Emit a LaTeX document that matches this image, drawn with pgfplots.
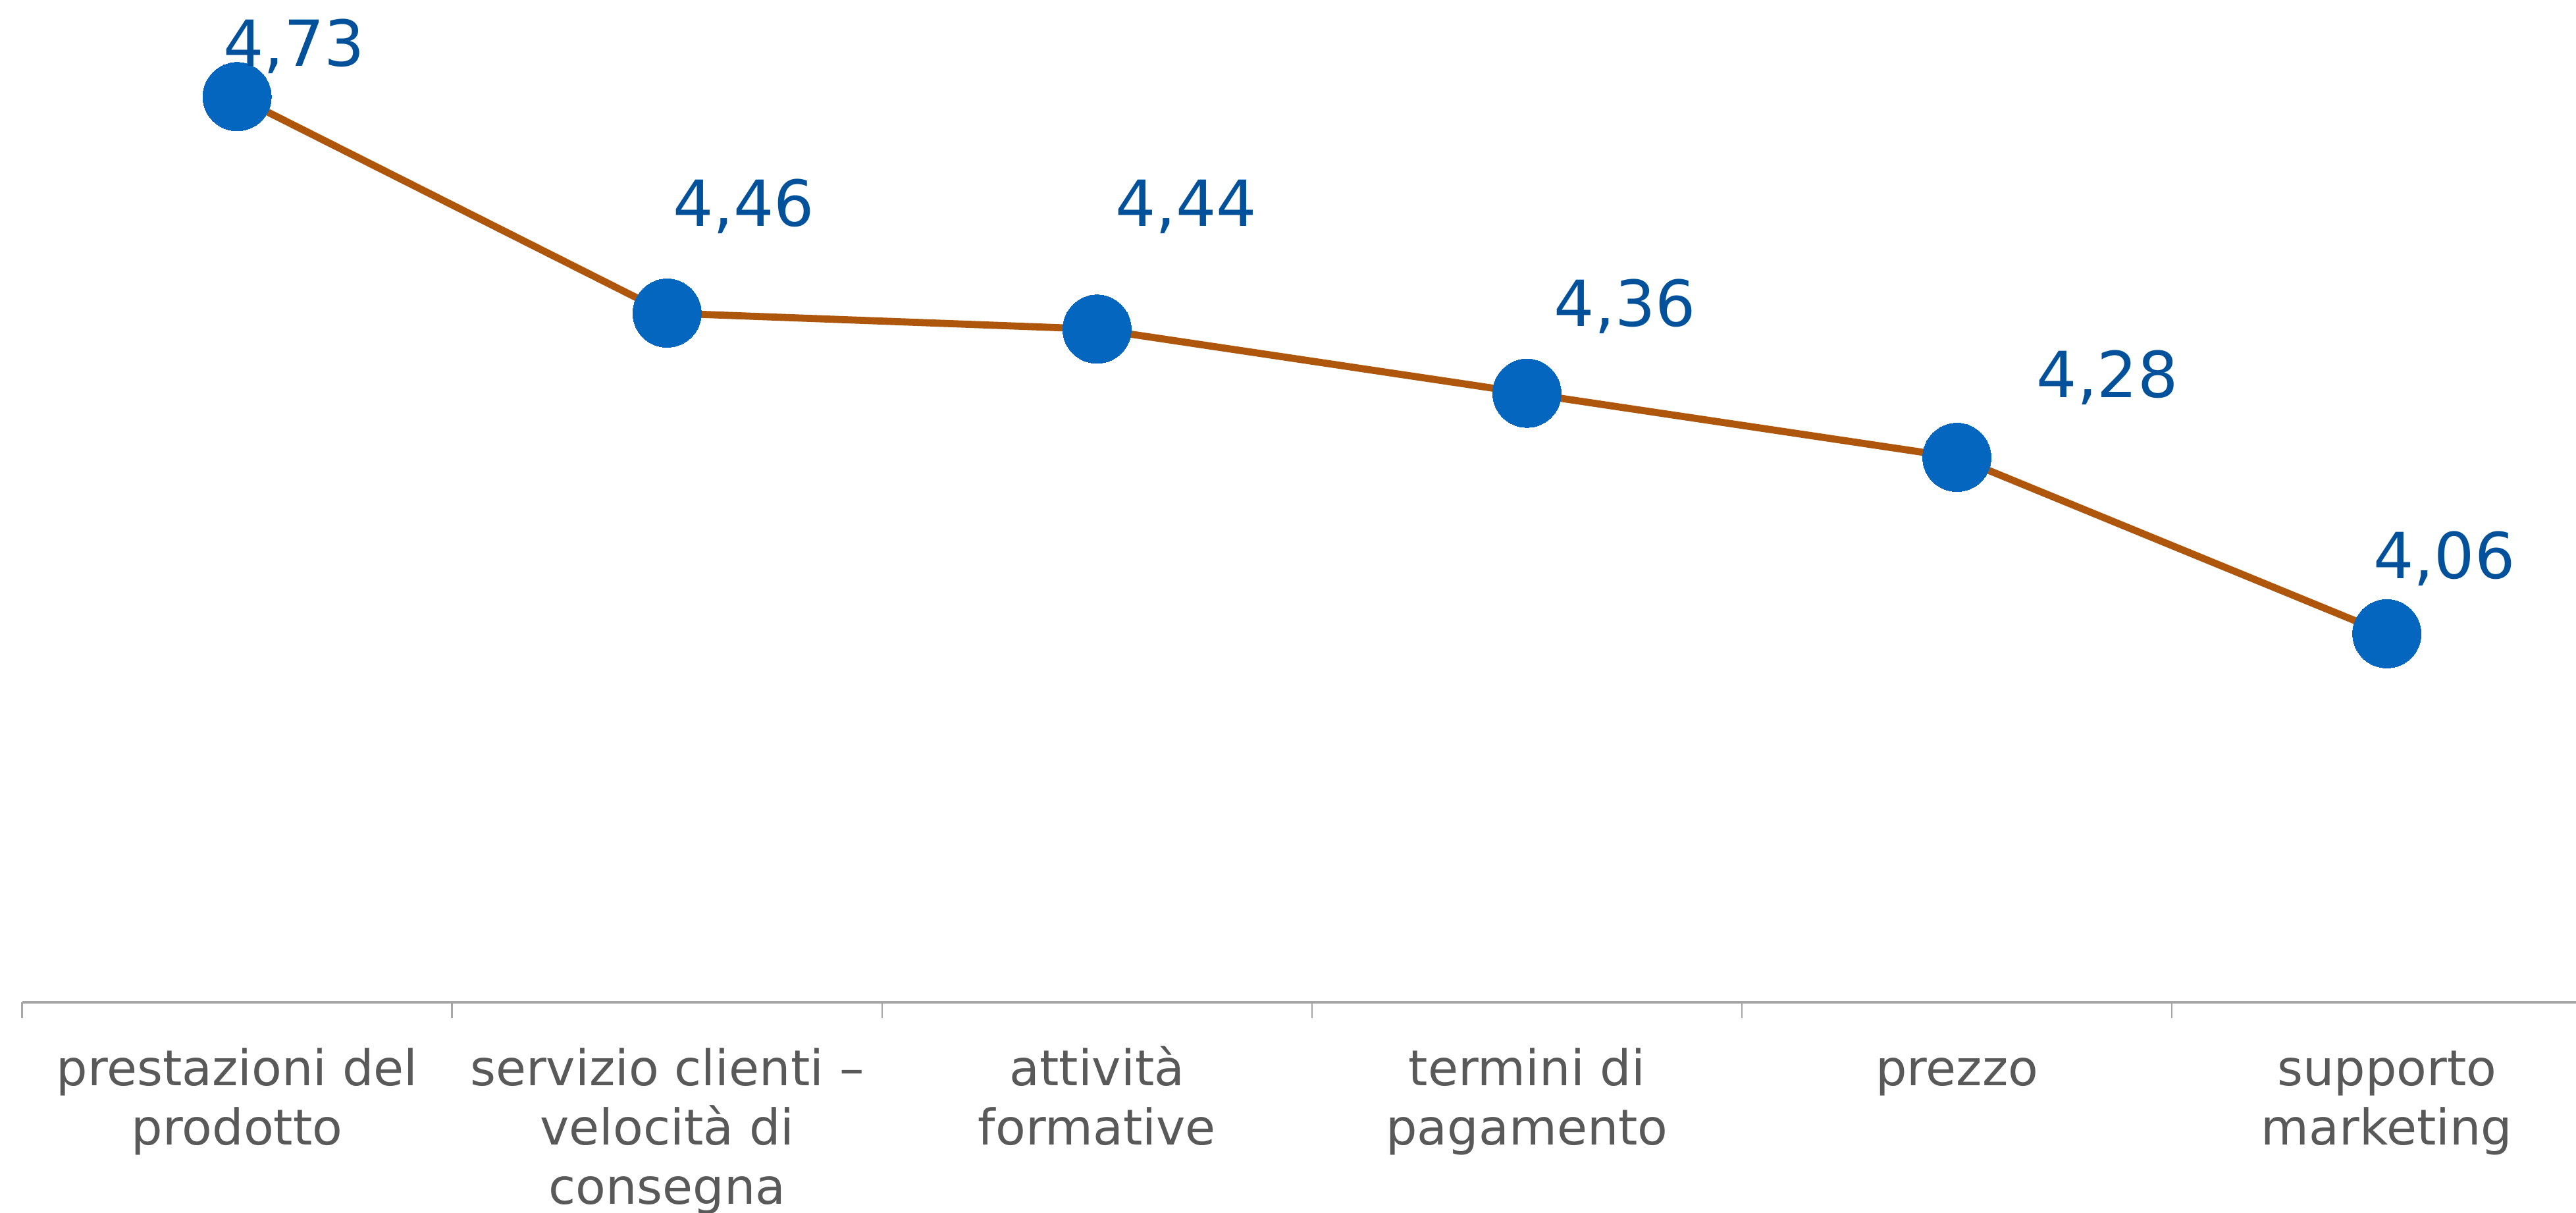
\documentclass[border=0pt]{standalone}
\usepackage{pgfplots}
\usepackage{pgfplotstable}
\pgfplotsset{compat=1.18}
\usepackage{fontspec}
\setmainfont{DejaVu Sans}
\definecolor{linec}{HTML}{AD560C}
\definecolor{markc}{HTML}{0566C0}
\definecolor{labc}{HTML}{02519A}
\definecolor{catc}{HTML}{595959}
\definecolor{axc}{HTML}{A6A6A6}
\pgfplotstableread{
x y dx dy
0 4.73 10.4 5.6
1 4.46 14.0 15.9
2 4.44 16.3 18.75
3 4.36 17.9 12.2
4 4.28 27.5 11.0
5 4.06 10.5 10.1
}\datatable
\begin{document}
\begin{tikzpicture}
\begin{axis}[
  scale only axis,
  width=466.35pt, height=183pt,
  xmin=-0.5, xmax=5.44,
  ymin=3.6, ymax=4.8506,
  clip=false,
  axis x line*=bottom,
  hide y axis,
  x axis line style={draw=axc, line width=0.5pt},
  xtick={0,1,2,3,4,5},
  xticklabels={\strut prestazioni del\\prodotto, \strut servizio clienti –\\velocità di\\consegna, \strut attività\\formative, \strut termini di\\pagamento, \strut prezzo, \strut supporto\\marketing},
  major tick length=0pt,
  minor xtick={-0.5,0.5,1.5,2.5,3.5,4.5},
  minor tick length=2.9pt,
  tick align=outside,
  minor tick style={draw=axc, line width=0.3pt},
  xticklabel style={align=center, font=\fontsize{9}{10.8}\selectfont, text=catc, anchor=north, inner sep=0pt, yshift=-7.4pt},
  /pgf/number format/assume math mode=true,
]
\addplot[color=linec, line width=1.3pt, mark=*, mark size=6.25pt,
  mark options={fill=markc, draw=markc, line width=0pt},
  point meta=explicit,
  visualization depends on={\thisrow{dx} \as \dx},
  visualization depends on={\thisrow{dy} \as \dy},
  nodes near coords={\pgfmathprintnumber[use comma,fixed,fixed zerofill,precision=2]{\pgfplotspointmeta}},
  nodes near coords style={anchor=base, xshift=\dx pt, yshift=\dy pt, font=\fontsize{11.6}{13}\selectfont, text=labc, inner sep=0pt},
] table[x=x, y=y, meta=y] {\datatable};
\end{axis}
\pgfresetboundingbox
\path[use as bounding box] ([xshift=-4.04pt]current axis.south west) ++(0,-38.4pt) rectangle (current axis.north east);
\end{tikzpicture}
\end{document}
